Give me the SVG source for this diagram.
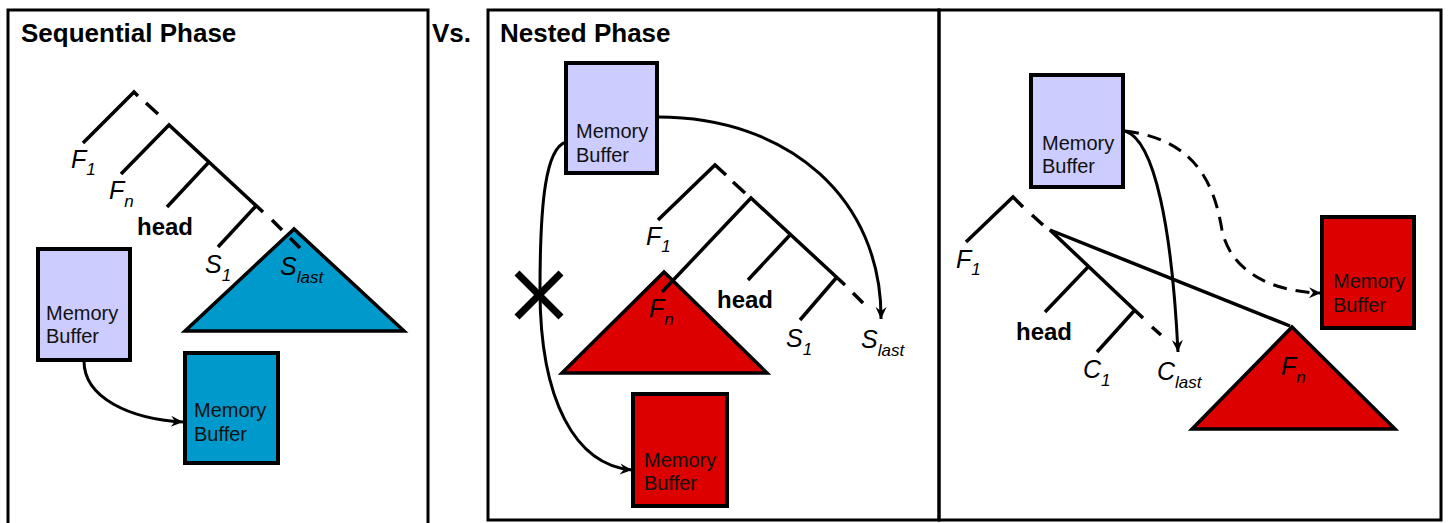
<svg xmlns="http://www.w3.org/2000/svg" width="1449" height="523" viewBox="0 0 1449 523">
  <defs>
    <style>
      .panel { fill: none; stroke: #000; stroke-width: 3; }
      .title { font-family: "Liberation Sans", Arial, sans-serif; font-weight: bold; font-size: 26px; fill: #000; }
      .edge { fill: none; stroke: #000; stroke-width: 3.5; }
      .conn { fill: none; stroke: #000; stroke-width: 3; }
      .connd { fill: none; stroke: #000; stroke-width: 3; stroke-dasharray: 14 9; }
      .buf { stroke: #000; stroke-width: 4; }
      .purple { fill: #CCCCFF; }
      .blue { fill: #0099CC; }
      .red { fill: #DC0000; }
      .tri { stroke: #000; stroke-width: 3.5; stroke-linejoin: miter; }
      .btxt { font-family: "Liberation Sans", Arial, sans-serif; font-size: 20px; fill: #111; }
      .lbl { font-family: "Liberation Sans", Arial, sans-serif; font-style: italic; font-size: 25px; fill: #000; }
      .sub { font-size: 17px; }
      .head { font-family: "Liberation Sans", Arial, sans-serif; font-weight: bold; font-size: 24px; fill: #000; }
    </style>
    <marker id="arrow" markerWidth="14" markerHeight="12" viewBox="-13 -6 14 12" refX="0" refY="0" orient="auto" markerUnits="userSpaceOnUse">
      <path d="M0,0 L-12,-5.5 L-8,0 L-12,5.5 Z" fill="#000"/>
    </marker>
  </defs>

  <!-- panel frames -->
  <g id="frames">
    <rect class="panel" x="8" y="10" width="420" height="525"/>
    <rect class="panel" x="488" y="10" width="451" height="510"/>
    <rect class="panel" x="939" y="10" width="502" height="510"/>
  </g>

  <!-- titles -->
  <g id="titles">
    <text class="title" x="21" y="42">Sequential Phase</text>
    <text class="title" x="432" y="42">Vs.</text>
    <text class="title" x="500" y="42">Nested Phase</text>
  </g>

  <!-- ===== Sequential phase ===== -->
  <g id="seq-subtree">
    <polygon class="tri blue" points="294,229 185,331 404,331"/>
  </g>
  <g id="seq-tree">
    <polyline class="edge" points="83,143 134,92 138,96"/>
    <line class="edge" x1="146" y1="103" x2="158" y2="114"/>
    <polyline class="edge" points="121,174 169,125 263,212"/>
    <line class="edge" x1="209" y1="162" x2="167" y2="207"/>
    <line class="edge" x1="256" y1="206" x2="218" y2="247"/>
    <line class="edge" x1="272" y1="220" x2="282" y2="230"/>
    <line class="edge" x1="290" y1="238" x2="300" y2="248"/>
    <text class="lbl" x="71" y="168">F<tspan class="sub" dy="7">1</tspan></text>
    <text class="lbl" x="109" y="199">F<tspan class="sub" dy="8">n</tspan></text>
    <text class="head" x="137" y="235">head</text>
    <text class="lbl" x="205" y="273">S<tspan class="sub" dy="8">1</tspan></text>
    <text class="lbl" x="280" y="275">S<tspan class="sub" dy="8">last</tspan></text>
  </g>
  <g id="seq-buffer-src">
    <rect class="buf purple" x="38" y="249" width="92" height="111"/>
    <text class="btxt" x="46" y="320">Memory</text>
    <text class="btxt" x="46" y="343">Buffer</text>
  </g>
  <g id="seq-buffer-dst">
    <rect class="buf blue" x="185" y="353" width="93" height="110"/>
    <text class="btxt" x="194" y="417">Memory</text>
    <text class="btxt" x="194" y="441">Buffer</text>
  </g>

  <!-- ===== Nested phase ===== -->
  <g id="nest-subtree">
    <polygon class="tri red" points="664,272 562,373 767,373"/>
  </g>
  <g id="nest-tree">
    <polyline class="edge" points="658,220 715,165 726,175"/>
    <line class="edge" x1="733" y1="182" x2="745" y2="193"/>
    <polyline class="edge" points="662,292 751,198 845,285"/>
    <line class="edge" x1="790" y1="235" x2="748" y2="280"/>
    <line class="edge" x1="837" y1="277" x2="800" y2="320"/>
    <line class="edge" x1="853" y1="293" x2="863" y2="303"/>
    <text class="lbl" x="646" y="245">F<tspan class="sub" dy="7">1</tspan></text>
    <text class="lbl" x="649" y="317">F<tspan class="sub" dy="8">n</tspan></text>
    <text class="head" x="717" y="308">head</text>
    <text class="lbl" x="786" y="347">S<tspan class="sub" dy="8">1</tspan></text>
    <text class="lbl" x="861" y="348">S<tspan class="sub" dy="8">last</tspan></text>
  </g>
  <g id="nest-buffer-src">
    <rect class="buf purple" x="566" y="63" width="91" height="110"/>
    <text class="btxt" x="576" y="138">Memory</text>
    <text class="btxt" x="576" y="162">Buffer</text>
  </g>
  <g id="nest-buffer-dst">
    <rect class="buf red" x="633" y="394" width="94" height="112"/>
    <text class="btxt" x="644" y="467">Memory</text>
    <text class="btxt" x="644" y="490">Buffer</text>
  </g>
  <g id="nest-cancel">
    <line x1="517" y1="273" x2="561" y2="317" stroke="#000" stroke-width="7"/>
    <line x1="561" y1="273" x2="517" y2="317" stroke="#000" stroke-width="7"/>
  </g>

  <!-- ===== Nested phase, continued ===== -->
  <g id="cont-subtree">
    <polygon class="tri red" points="1292,327 1192,429 1395,429"/>
  </g>
  <g id="cont-tree">
    <polyline class="edge" points="966,242 1013,197 1023,207"/>
    <line class="edge" x1="1032" y1="215" x2="1043" y2="225"/>
    <polyline class="edge" points="1290,326 1050,230 1143,318"/>
    <line class="edge" x1="1088" y1="267" x2="1045" y2="312"/>
    <line class="edge" x1="1134" y1="311" x2="1097" y2="352"/>
    <line class="edge" x1="1152" y1="327" x2="1161" y2="335"/>
    <text class="lbl" x="956" y="268">F<tspan class="sub" dy="7">1</tspan></text>
    <text class="head" x="1016" y="340">head</text>
    <text class="lbl" x="1083" y="378">C<tspan class="sub" dy="8">1</tspan></text>
    <text class="lbl" x="1157" y="380">C<tspan class="sub" dy="8">last</tspan></text>
    <text class="lbl" x="1281" y="375">F<tspan class="sub" dy="8">n</tspan></text>
  </g>
  <g id="cont-buffer-src">
    <rect class="buf purple" x="1031" y="75" width="92" height="112"/>
    <text class="btxt" x="1042" y="150">Memory</text>
    <text class="btxt" x="1042" y="173">Buffer</text>
  </g>
  <g id="cont-buffer-dst">
    <rect class="buf red" x="1322" y="217" width="92" height="111"/>
    <text class="btxt" x="1333" y="288">Memory</text>
    <text class="btxt" x="1333" y="312">Buffer</text>
  </g>

  <!-- connectors -->
  <g id="connectors">
    <path class="conn" d="M84,361 C84,398 130,419 183,422" marker-end="url(#arrow)"/>
    <path class="conn" d="M658,117 C790,117 882,200 881,319" marker-end="url(#arrow)"/>
    <path class="conn" d="M566,142 C546,148 540,200 540,290 C540,400 575,465 632,470" marker-end="url(#arrow)"/>
    <path class="conn" d="M1125,131 C1155,140 1172,230 1178,352" marker-end="url(#arrow)"/>
    <path class="connd" d="M1125,131 C1200,140 1215,190 1222,230 C1230,270 1270,292 1321,293" marker-end="url(#arrow)"/>
  </g>
</svg>
